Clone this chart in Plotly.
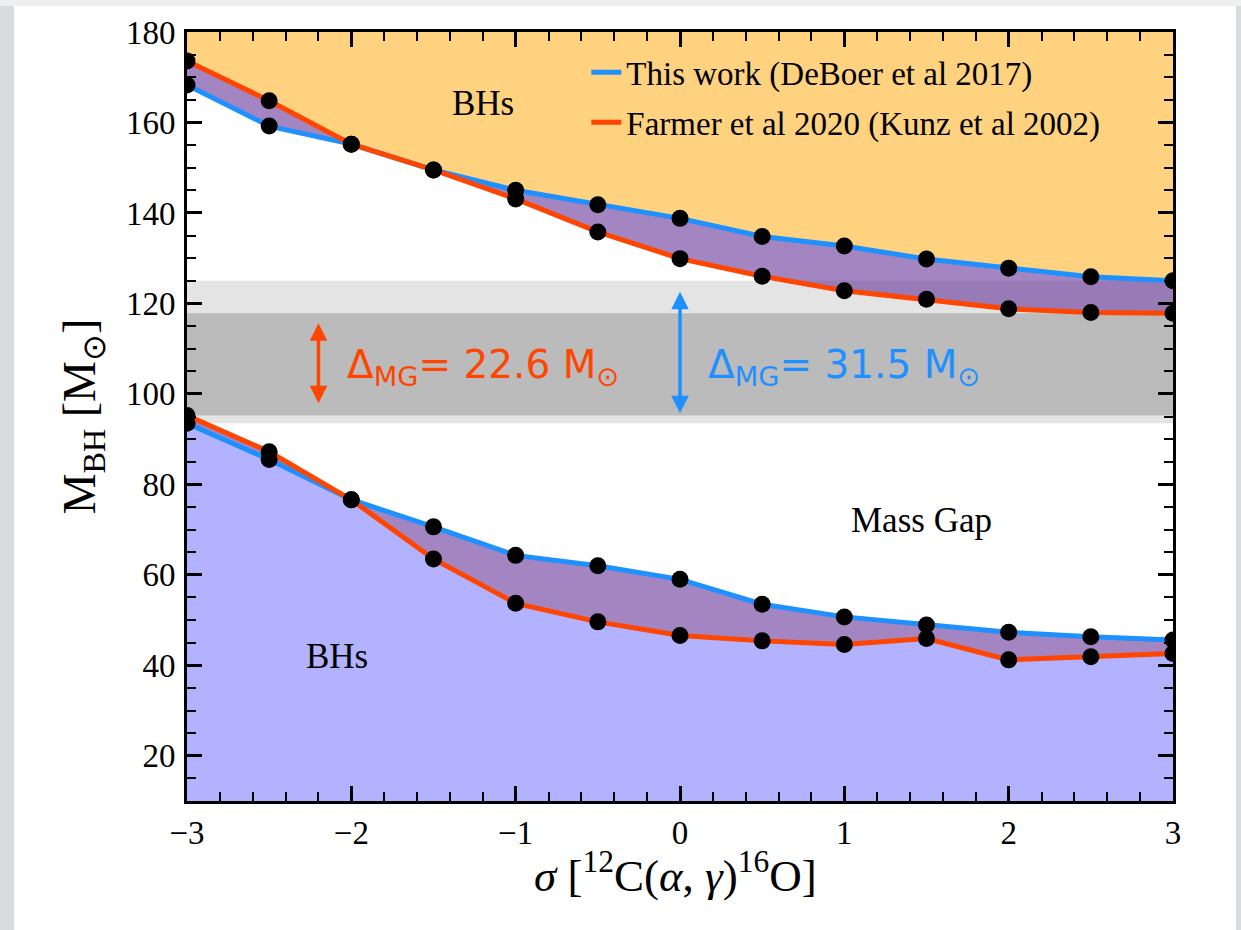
import numpy as np
import plotly.graph_objects as go

# ---------------- data ----------------
sigma = [-3, -2.5, -2, -1.5, -1, -0.5, 0, 0.5, 1, 1.5, 2, 2.5, 3]

# This work (DeBoer et al 2017)
blue_upper = [168.3, 159.2, 155.2, 149.5, 145.0, 141.8, 138.8, 134.8, 132.7, 129.8, 127.8, 125.9, 125.0]
blue_lower = [93.5, 85.5, 76.6, 70.6, 64.3, 62.0, 59.0, 53.5, 50.7, 48.9, 47.3, 46.3, 45.6]

# Farmer et al 2020 (Kunz et al 2002)
red_upper = [173.6, 164.8, 155.2, 149.5, 143.1, 135.8, 129.9, 126.0, 122.8, 120.9, 118.8, 118.0, 117.8]
red_lower = [95.2, 87.2, 76.6, 63.5, 53.7, 49.6, 46.6, 45.4, 44.6, 45.9, 41.2, 41.9, 42.6]

labels = ["This work (DeBoer et al 2017)", "Farmer et al 2020 (Kunz et al 2002)"]
region_labels = ["BHs", "BHs", "Mass Gap"]

x_ticks = [-3, -2, -1, 0, 1, 2, 3]
y_ticks = [20, 40, 60, 80, 100, 120, 140, 160, 180]
y_range = [10, 180]

BLUE = "#1E90FF"
RED = "#FF4500"
ORANGE_FILL = "rgba(255,165,0,0.5)"
PURPLE_FILL = "rgba(102,51,153,0.6)"
LAV_FILL = "rgba(0,0,255,0.3)"
SERIF = "Liberation Serif"

bu, bl = np.array(blue_upper), np.array(blue_lower)
ru, rl = np.array(red_upper), np.array(red_lower)
up_max, up_min = np.maximum(bu, ru), np.minimum(bu, ru)
lo_max, lo_min = np.maximum(bl, rl), np.minimum(bl, rl)

# gap bands
blue_gap = (bl[0], bu[-1])
red_gap = (rl[0], ru[-1])

fig = go.Figure()

def fill_trace(y, fill=None, color=None):
    return go.Scatter(x=sigma, y=list(y), mode="lines", line=dict(width=0),
                      fill=fill, fillcolor=color, showlegend=False, hoverinfo="skip")

# lower BH region
fig.add_trace(fill_trace(lo_min, "tozeroy", LAV_FILL))
fig.add_trace(fill_trace(lo_min))
fig.add_trace(fill_trace(lo_max, "tonexty", PURPLE_FILL))
# upper region
fig.add_trace(fill_trace(up_min))
fig.add_trace(fill_trace(up_max, "tonexty", PURPLE_FILL))
fig.add_trace(fill_trace([y_range[1] + 5] * len(sigma), "tonexty", ORANGE_FILL))

# lines
for yu, yl, col, name in [(blue_upper, blue_lower, BLUE, labels[0]),
                          (red_upper, red_lower, RED, labels[1])]:
    fig.add_trace(go.Scatter(x=sigma, y=yu, mode="lines", line=dict(color=col, width=5),
                             name=name, legendgroup=name, showlegend=True))
    fig.add_trace(go.Scatter(x=sigma, y=yl, mode="lines", line=dict(color=col, width=5),
                             name=name, legendgroup=name, showlegend=False))

# markers
for yy in [blue_upper, blue_lower, red_upper, red_lower]:
    fig.add_trace(go.Scatter(x=sigma, y=yy, mode="markers",
                             marker=dict(color="black", size=17), showlegend=False,
                             hoverinfo="skip"))

# bands
fig.add_shape(type="rect", xref="x", yref="y", x0=sigma[0], x1=sigma[-1],
              y0=blue_gap[0], y1=blue_gap[1], fillcolor="#E4E4E4", line_width=0, layer="below")
fig.add_shape(type="rect", xref="x", yref="y", x0=sigma[0], x1=sigma[-1],
              y0=red_gap[0], y1=red_gap[1], fillcolor="#BBBBBB", line_width=0, layer="below")

# page frame (screenshot border)
W, H = 1241, 930
ml, mr, mt, mb = 187, 68, 32, 129
pw, ph = W - ml - mr, H - mt - mb
def px2paper_x(px): return (px - ml) / pw
def px2paper_y(py): return (H - mb - py) / ph
fig.add_shape(type="rect", xref="paper", yref="paper",
              x0=px2paper_x(0), x1=px2paper_x(W), y0=px2paper_y(6), y1=px2paper_y(0),
              fillcolor="#EEF0F0", line_width=0, layer="below")
fig.add_shape(type="rect", xref="paper", yref="paper",
              x0=px2paper_x(14), x1=px2paper_x(1236), y0=px2paper_y(H + 5), y1=px2paper_y(6),
              fillcolor="white", line_width=0, layer="below")

# arrows
red_dx = -2.2
fig.add_annotation(x=red_dx, y=red_gap[1] - 2.2, ax=red_dx, ay=red_gap[0] + 2.4,
                   xref="x", yref="y", axref="x", ayref="y", text="", showarrow=True,
                   arrowhead=2, arrowside="end+start", arrowwidth=3.5, arrowsize=1,
                   arrowcolor=RED)
fig.add_annotation(x=0, y=blue_gap[1] - 2.4, ax=0, ay=blue_gap[0] + 1.9,
                   xref="x", yref="y", axref="x", ayref="y", text="", showarrow=True,
                   arrowhead=2, arrowside="end+start", arrowwidth=3.5, arrowsize=1,
                   arrowcolor=BLUE)

dred = red_gap[1] - red_gap[0]
dblue = blue_gap[1] - blue_gap[0]
fig.add_annotation(x=-2.04, y=106.0, xref="x", yref="y", xanchor="left", yanchor="middle",
                   text=f"Δ<sub>MG</sub>= {dred:.1f} M<sub>⊙</sub>", showarrow=False,
                   font=dict(family="DejaVu Sans", size=39, color=RED))
fig.add_annotation(x=0.16, y=106.0, xref="x", yref="y", xanchor="left", yanchor="middle",
                   text=f"Δ<sub>MG</sub>= {dblue:.1f} M<sub>⊙</sub>", showarrow=False,
                   font=dict(family="DejaVu Sans", size=39, color=BLUE))

# region labels
for (xx, yy), t in zip([(-1.2, 164.1), (-2.09, 41.9), (1.467, 71.9)], region_labels):
    fig.add_annotation(x=xx, y=yy, xref="x", yref="y", text=t, showarrow=False,
                       font=dict(family=SERIF, size=35, color="black"))

# x-axis title
fig.add_annotation(x=px2paper_x(675), y=px2paper_y(842), xref="paper", yref="paper",
                   xanchor="center", yanchor="top", showarrow=False,
                   text="<i>σ</i> [<sup>12</sup>C(<i>α</i>, <i>γ</i>)<sup>16</sup>O]",
                   font=dict(family=SERIF, size=45, color="black"))

axis_common = dict(showline=True, linecolor="black", linewidth=3, mirror="allticks",
                   ticks="inside", ticklen=15, tickwidth=2.5, tickcolor="black",
                   showgrid=False, zeroline=False,
                   tickfont=dict(family=SERIF, size=33, color="black"))

fig.update_xaxes(range=[sigma[0], sigma[-1]], tickvals=x_ticks, ticklabelstandoff=0,
                 minor=dict(dtick=0.2, tick0=0, ticks="inside", ticklen=9, tickwidth=2, tickcolor="black"),
                 **axis_common)
fig.update_yaxes(range=y_range, tickvals=y_ticks, ticklabelstandoff=2,
                 minor=dict(dtick=5, tick0=0, ticks="inside", ticklen=9, tickwidth=2, tickcolor="black"),
                 title=dict(text="M<sub>BH</sub> [M<sub>⊙</sub>]",
                            font=dict(family=SERIF, size=46, color="black"), standoff=16),
                 **axis_common)

fig.update_layout(
    width=W, height=H,
    margin=dict(l=ml, r=mr, t=mt, b=mb, autoexpand=False),
    paper_bgcolor="#D9DCDC", plot_bgcolor="rgba(0,0,0,0)",
    showlegend=True,
    legend=dict(x=0.405, y=0.984, xanchor="left", yanchor="top",
                bgcolor="rgba(0,0,0,0)", traceorder="grouped", tracegroupgap=4,
                font=dict(family=SERIF, size=33, color="black")),
)

fig.write_html("out.html")
